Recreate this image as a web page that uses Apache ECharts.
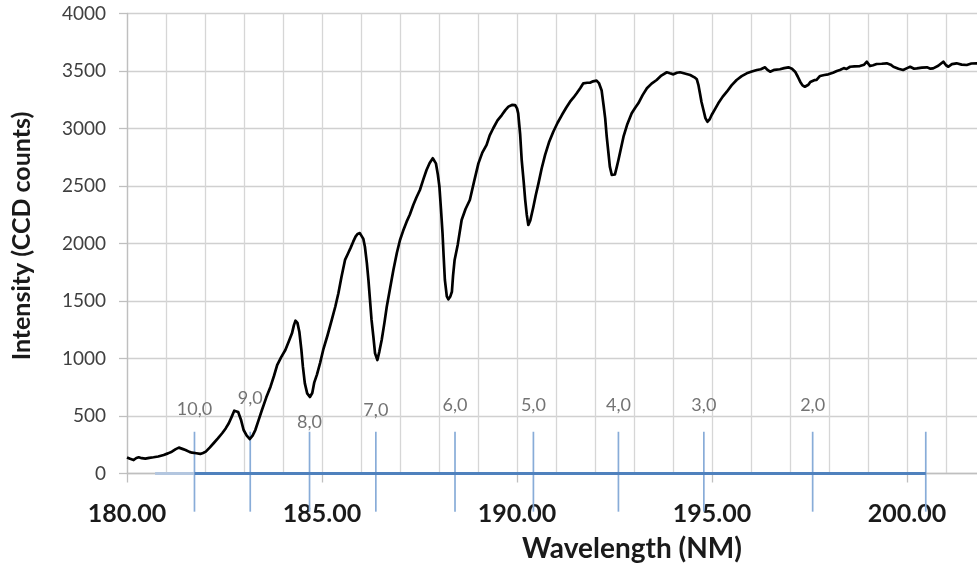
<!DOCTYPE html>
<html>
<head>
<meta charset="utf-8">
<script src="https://cdn.jsdelivr.net/npm/echarts@6/dist/echarts.min.js"></script>
<style>
html,body{margin:0;padding:0;background:#fff;}
#c{width:977px;height:565px;}
</style>
</head>
<body>
<div id="c"></div>
<script>
// Spectrum: wavelength (nm) and intensity (CCD counts)
const wavelength = [180.00,180.08,180.17,180.24,180.30,180.38,180.47,180.57,180.68,180.80,180.94,181.05,181.15,181.25,181.33,181.42,181.50,181.60,181.67,181.78,181.88,181.95,182.02,182.12,182.22,182.33,182.44,182.53,182.61,182.68,182.75,182.80,182.85,182.92,182.99,183.07,183.15,183.22,183.29,183.37,183.46,183.57,183.68,183.77,183.85,183.95,184.06,184.15,184.23,184.28,184.32,184.37,184.42,184.47,184.51,184.56,184.62,184.69,184.75,184.80,184.87,184.95,185.03,185.14,185.25,185.34,185.42,185.50,185.59,185.67,185.73,185.80,185.86,185.91,185.97,186.02,186.06,186.10,186.15,186.19,186.23,186.27,186.32,186.36,186.42,186.47,186.53,186.60,186.66,186.75,186.83,186.92,187.00,187.08,187.17,187.25,187.34,187.42,187.51,187.60,187.68,187.76,187.84,187.88,187.92,187.97,188.01,188.05,188.09,188.12,188.15,188.20,188.24,188.29,188.33,188.36,188.40,188.48,188.58,188.68,188.79,188.90,189.01,189.11,189.22,189.30,189.39,189.50,189.61,189.70,189.78,189.87,189.95,190.00,190.03,190.08,190.12,190.17,190.21,190.25,190.29,190.34,190.42,190.48,190.55,190.63,190.72,190.82,190.93,191.04,191.15,191.26,191.36,191.45,191.53,191.62,191.70,191.80,191.87,191.95,192.04,192.10,192.17,192.22,192.26,192.30,192.34,192.38,192.43,192.47,192.51,192.56,192.60,192.66,192.73,192.83,192.94,193.03,193.11,193.22,193.33,193.45,193.58,193.70,193.84,193.92,194.01,194.10,194.18,194.30,194.44,194.55,194.61,194.65,194.69,194.73,194.78,194.83,194.88,194.94,194.99,195.08,195.16,195.27,195.38,195.50,195.63,195.76,195.89,196.02,196.15,196.25,196.36,196.42,196.49,196.60,196.74,196.85,196.96,197.05,197.13,197.20,197.26,197.32,197.38,197.47,197.52,197.56,197.62,197.68,197.77,197.88,197.98,198.10,198.20,198.28,198.38,198.45,198.54,198.65,198.79,198.90,198.97,199.05,199.13,199.22,199.35,199.48,199.58,199.65,199.78,199.90,200.00,200.08,200.18,200.25,200.38,200.51,200.60,200.67,200.80,200.93,201.00,201.06,201.15,201.27,201.40,201.53,201.65,201.79,201.95];
const intensity = [140,128,117,135,141,133,129,136,141,148,161,175,190,212,225,214,204,188,181,176,170,178,190,225,263,305,350,392,437,490,546,552,535,470,378,330,300,330,378,460,552,660,755,850,943,1010,1074,1150,1219,1290,1329,1310,1230,1080,929,784,697,665,700,790,860,960,1074,1200,1335,1450,1567,1710,1857,1915,1960,2016,2060,2083,2090,2074,2040,1972,1830,1683,1510,1335,1180,1045,987,1060,1161,1310,1450,1620,1770,1920,2030,2110,2190,2250,2335,2400,2465,2560,2639,2700,2741,2735,2697,2600,2494,2300,2089,1880,1683,1540,1515,1540,1580,1720,1857,1990,2204,2300,2378,2540,2697,2790,2857,2940,3002,3070,3117,3160,3190,3205,3204,3175,3132,2950,2726,2540,2378,2250,2161,2200,2320,2420,2523,2650,2770,2880,2972,3050,3117,3180,3233,3270,3306,3350,3393,3398,3398,3410,3416,3395,3330,3200,3090,2930,2800,2668,2596,2590,2600,2668,2726,2820,2929,3040,3132,3180,3219,3290,3350,3390,3422,3460,3489,3480,3471,3485,3489,3478,3465,3445,3428,3380,3306,3230,3161,3090,3059,3080,3117,3170,3219,3275,3320,3375,3422,3455,3480,3495,3509,3515,3532,3510,3494,3510,3515,3525,3532,3520,3494,3450,3407,3375,3363,3380,3405,3393,3420,3422,3457,3465,3471,3485,3500,3509,3525,3518,3537,3540,3543,3555,3581,3543,3550,3561,3563,3567,3555,3537,3520,3509,3525,3537,3520,3523,3530,3532,3520,3523,3545,3581,3550,3537,3560,3567,3555,3552,3565,3567,3560];

// Band head markers (v',v'') positions
const bandLabels = ['10,0','9,0','8,0','7,0','6,0','5,0','4,0','3,0','2,0',''];
const bandPositions = [181.73,183.16,184.68,186.38,188.41,190.42,192.60,194.79,197.58,200.48];
const bandLabelY = [561,654,442,552,596,596,596,596,596,596];
const markerRange = [-332, 363];
const baselineFaint = [180.72, 181.73];
const baselineMain = [181.73, 200.48];

// Axis settings
const xRange = [180, 202.05];
const yTicks = [0, 4000, 500];
const markerAxisMin = -347.83; // hidden axis for the marker overlay grid (same scale, extends below 0)

const FONT = 'Lato, "Open Sans", sans-serif';

const chart = echarts.init(document.getElementById('c'), null, {renderer: 'canvas'});

const series = [];
series.push({
  type: 'custom', xAxisIndex: 2, yAxisIndex: 1, clip: false, silent: true, z: 3,
  data: bandPositions.map(x => [x, markerRange[0], markerRange[1]]),
  renderItem: function (params, api) {
    const p0 = api.coord([api.value(0), api.value(1)]);
    const p1 = api.coord([api.value(0), api.value(2)]);
    return {type: 'line', shape: {x1: p0[0], y1: p0[1], x2: p1[0], y2: p1[1]},
            style: {stroke: '#88acd8', lineWidth: 1.7}};
  }
});
series.push({
  type: 'line', xAxisIndex: 0, yAxisIndex: 0, clip: false, silent: true, showSymbol: false,
  data: [[baselineFaint[0], 0], [baselineFaint[1], 0]],
  lineStyle: {color: '#b3c6df', width: 3}, z: 4
});
series.push({
  type: 'line', xAxisIndex: 0, yAxisIndex: 0, clip: false, silent: true, showSymbol: false,
  data: [[baselineMain[0], 0], [baselineMain[1], 0]],
  lineStyle: {color: '#4f81bd', width: 3}, z: 4
});
series.push({
  type: 'scatter', xAxisIndex: 0, yAxisIndex: 0, silent: true, symbolSize: 1,
  itemStyle: {color: 'rgba(0,0,0,0)'},
  data: bandPositions.map((x, i) => ({value: [x, bandLabelY[i]], name: bandLabels[i]})),
  label: {show: true, position: 'inside', formatter: p => p.name,
          fontFamily: FONT, fontSize: 18, color: '#505050'},
  z: 5
});
series.push({
  type: 'line', xAxisIndex: 0, yAxisIndex: 0, silent: true, showSymbol: false,
  data: wavelength.map((x, i) => [x, intensity[i]]),
  lineStyle: {color: '#000000', width: 2.7, join: 'round'}, z: 6
});

chart.setOption({
  animation: false,
  backgroundColor: '#ffffff',
  grid: [
    {left: 127, top: 13.5, width: 860, height: 460, containLabel: false, outerBoundsMode: 'none'},
    {left: 127, top: 13.5, width: 860, height: 500, containLabel: false, outerBoundsMode: 'none'}
  ],
  xAxis: [
    {
      gridIndex: 0, type: 'value', min: xRange[0], max: xRange[1], interval: 5, position: 'bottom',
      axisLine: {show: true, lineStyle: {color: '#bfbfbf', width: 1.3}},
      axisTick: {show: true, length: 9, lineStyle: {color: '#bfbfbf', width: 1.3}},
      axisLabel: {
        margin: 28, fontFamily: FONT, fontSize: 25, fontWeight: 'bold', color: '#1a1a1a',
        formatter: v => (Math.abs(v % 5) < 1e-6 ? v.toFixed(2) : ''),
        showMaxLabel: false
      },
      splitLine: {show: false}
    },
    {
      gridIndex: 0, type: 'value', min: xRange[0], max: xRange[1], interval: 1, position: 'bottom',
      axisLine: {show: false}, axisTick: {show: false}, axisLabel: {show: false},
      splitLine: {show: true, lineStyle: {color: '#d6d6d6', width: 1.3}}
    },
    {
      gridIndex: 1, type: 'value', min: xRange[0], max: xRange[1], show: false
    }
  ],
  yAxis: [
    {
      gridIndex: 0, type: 'value', min: yTicks[0], max: yTicks[1], interval: yTicks[2],
      axisLine: {show: true, lineStyle: {color: '#bfbfbf', width: 1.3}},
      axisTick: {show: true, length: 8, lineStyle: {color: '#bfbfbf', width: 1.3}},
      axisLabel: {margin: 21, fontFamily: FONT, fontSize: 19, color: '#404040',
                  formatter: v => String(v)},
      splitLine: {show: true, lineStyle: {color: '#d0d0d0', width: 1.3}}
    },
    {
      gridIndex: 1, type: 'value', min: markerAxisMin, max: yTicks[1], show: false
    }
  ],
  graphic: [
    {type: 'text', x: 22, y: 236, rotation: Math.PI / 2,
     style: {text: 'Intensity (CCD counts)', fontFamily: FONT, fontSize: 25, fontWeight: 'bold',
             fill: '#1a1a1a', textAlign: 'center', textVerticalAlign: 'middle'}},
    {type: 'text', x: 632, y: 549,
     style: {text: 'Wavelength (NM)', fontFamily: FONT, fontSize: 28, fontWeight: 'bold',
             fill: '#1a1a1a', textAlign: 'center', textVerticalAlign: 'middle'}}
  ],
  series: series
});
</script>
</body>
</html>
